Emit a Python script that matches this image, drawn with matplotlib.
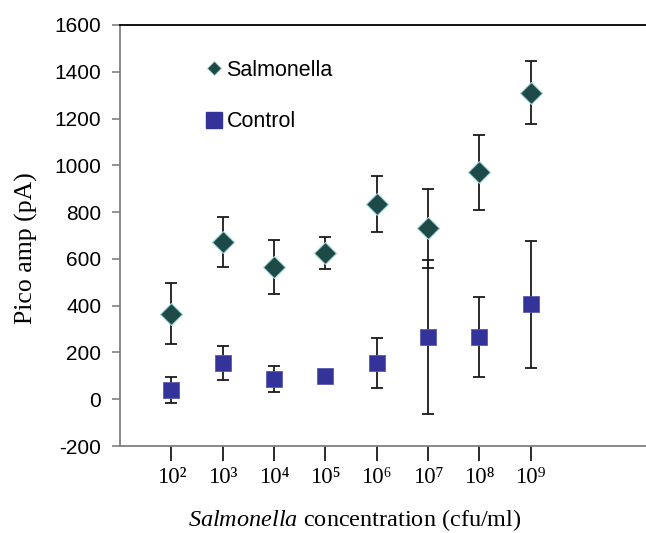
import matplotlib
matplotlib.use("Agg")
import matplotlib.pyplot as plt
from matplotlib.lines import Line2D
import numpy as np

exponents = ['²', '³', '⁴', '⁵', '⁶', '⁷', '⁸', '⁹']
salmonella = [365, 672, 565, 625, 835, 730, 970, 1310]
salmonella_err = [130, 105, 115, 70, 118, 170, 160, 135]
control = [40, 155, 85, 100, 155, 265, 265, 405]
control_err = [55, 72, 55, 0, 108, 330, 170, 272]
y_ticks = [-200, 0, 200, 400, 600, 800, 1000, 1200, 1400, 1600]

plt.rcParams['mathtext.fontset'] = 'custom'
plt.rcParams['mathtext.rm'] = 'Liberation Serif'
plt.rcParams['mathtext.it'] = 'Liberation Serif:italic'

fig = plt.figure(figsize=(6.46, 5.33), dpi=100)
ax = fig.add_axes([120/646, 87/533, 1 - 120/646, 421/533])

x = np.arange(1, len(exponents) + 1)

teal = '#1d4a47'
navy = '#333399'

ax.errorbar(x, salmonella, yerr=salmonella_err, fmt='none', ecolor='#1a1a1a',
            elinewidth=1.3, capsize=4.3, capthick=1.3, zorder=2)
ax.errorbar(x, control, yerr=control_err, fmt='none', ecolor='#1a1a1a',
            elinewidth=1.3, capsize=4.3, capthick=1.3, zorder=2)
ax.plot(x, salmonella, linestyle='none', marker='D', markersize=11,
        markerfacecolor=teal, markeredgecolor='#9fcfcf', markeredgewidth=0.8, zorder=3)
ax.plot(x, control, linestyle='none', marker='s', markersize=12,
        markerfacecolor=navy, markeredgecolor='#5a5ab0', markeredgewidth=0.6, zorder=3)

ax.set_xlim(0, 10.25)
ax.set_ylim(-200, 1600)
ax.set_yticks(y_ticks)
ax.set_yticklabels([str(v) for v in y_ticks], fontfamily='Liberation Sans', fontsize=15)
ax.set_xticks(x)
ax.set_xticklabels(['10' + e for e in exponents],
                   fontfamily=['Liberation Serif', 'DejaVu Serif'], fontsize=16.5)

ax.spines['right'].set_visible(False)
ax.spines['left'].set_color('#808080')
ax.spines['bottom'].set_color('#808080')
ax.spines['top'].set_color('#000000')
for s in ['left', 'bottom', 'top']:
    ax.spines[s].set_linewidth(1.3)

ax.tick_params(axis='y', direction='out', length=6, width=1.2, color='#808080', pad=7.5)
ax.tick_params(axis='x', direction='out', length=11, width=1.3, color='#1a1a1a', pad=4)

ax.set_ylabel('Pico amp (pA)', fontfamily='Liberation Serif', fontsize=18.5)
ax.yaxis.set_label_coords((38 - 120) / 526, (446 - 248) / 421)
ax.set_xlabel(r'$\mathit{Salmonella}$ concentration (cfu/ml)',
              fontfamily='Liberation Serif', fontsize=17.5)
ax.xaxis.set_label_coords((355 - 120) / 526, (446 - 507) / 421)

handles = [
    Line2D([], [], linestyle='none', marker='D', markersize=7.5,
           markerfacecolor=teal, markeredgecolor='#9fcfcf', markeredgewidth=0.6),
    Line2D([], [], linestyle='none', marker='s', markersize=11,
           markerfacecolor=navy, markeredgecolor=navy),
]
leg = ax.legend(handles, ['Salmonella', 'Control'], loc='upper left',
                bbox_to_anchor=((205 - 120) / 526, (446 - 60) / 421),
                frameon=False, handlelength=0.8, handletextpad=0.2,
                labelspacing=1.4, borderaxespad=0, borderpad=0,
                prop={'family': 'Liberation Sans', 'size': 15.5})

fig.savefig('out.png', dpi=100)
